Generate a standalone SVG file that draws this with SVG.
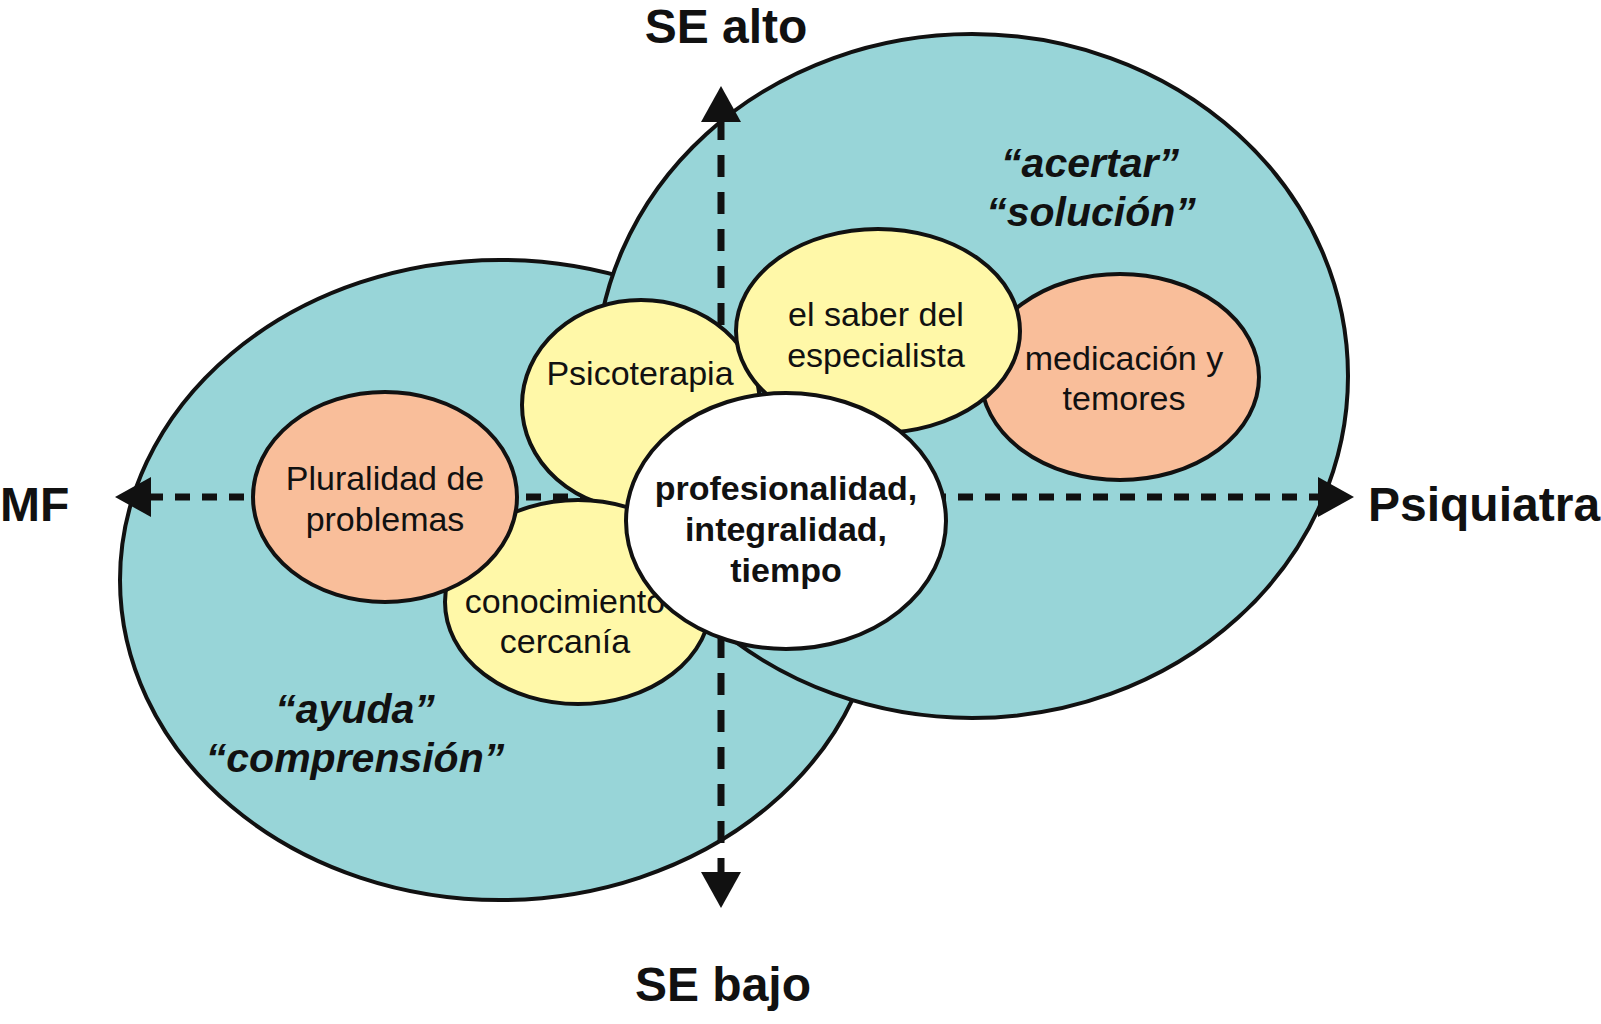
<svg xmlns="http://www.w3.org/2000/svg" width="1601" height="1024" viewBox="0 0 1601 1024">
<style>
.big{fill:#98D5D8;stroke:#111;stroke-width:4}
.yel{fill:#FFF8A8;stroke:#111;stroke-width:4}
.ora{fill:#F9BE9A;stroke:#111;stroke-width:4}
.wht{fill:#FFFFFF;stroke:#111;stroke-width:4}
.ax{stroke:#111;stroke-width:7;fill:none}
.t{font-family:"Liberation Sans",Arial,sans-serif;font-size:34px;fill:#111;text-anchor:middle}
.tb{font-family:"Liberation Sans",Arial,sans-serif;font-size:34px;font-weight:bold;fill:#111;text-anchor:middle}
.lab{font-family:"Liberation Sans",Arial,sans-serif;font-size:48px;font-weight:bold;fill:#111}
.q{font-family:"Liberation Sans",Arial,sans-serif;font-size:41px;font-weight:bold;font-style:italic;fill:#111;text-anchor:middle}
</style>
<rect width="1601" height="1024" fill="#fff"/>
<g id="mf-circle">
<ellipse class="big" cx="500" cy="580" rx="380" ry="320"/>
<text class="q" x="355" y="723">“ayuda”</text>
<text class="q" x="355" y="772">“comprensión”</text>
</g>
<g id="psiquiatra-circle">
<ellipse class="big" cx="972" cy="376" rx="376" ry="342"/>
<text class="q" x="1090" y="177">“acertar”</text>
<text class="q" x="1091" y="226">“solución”</text>
</g>
<g id="connectors">
<line class="ax" x1="721" y1="118" x2="721" y2="875" stroke-dasharray="22 15"/>
<line class="ax" x1="148" y1="497" x2="1320" y2="497" stroke-dasharray="15 12"/>
<polygon points="721,86 701,122 741,122" fill="#111"/>
<polygon points="721,908 701,872 741,872" fill="#111"/>
<polygon points="115,497 151,477 151,517" fill="#111"/>
<polygon points="1354,497 1318,477 1318,517" fill="#111"/>
</g>
<g id="medicacion">
<ellipse class="ora" cx="1120" cy="377" rx="139" ry="103"/>
<text class="t" x="1124" y="370">medicación y</text>
<text class="t" x="1124" y="410">temores</text>
</g>
<g id="psicoterapia">
<ellipse class="yel" cx="641" cy="405" rx="119" ry="105"/>
<text class="t" x="640" y="385">Psicoterapia</text>
</g>
<g id="saber">
<ellipse class="yel" cx="878" cy="331" rx="142" ry="102"/>
<text class="t" x="876" y="326">el saber del</text>
<text class="t" x="876" y="367">especialista</text>
</g>
<g id="conocimiento">
<ellipse class="yel" cx="578" cy="602" rx="133" ry="102"/>
<text class="t" x="565" y="613">conocimiento</text>
<text class="t" x="565" y="653">cercanía</text>
</g>
<g id="pluralidad">
<ellipse class="ora" cx="385" cy="497" rx="132" ry="105"/>
<text class="t" x="385" y="490">Pluralidad de</text>
<text class="t" x="385" y="531">problemas</text>
</g>
<g id="centro">
<ellipse class="wht" cx="786" cy="521" rx="160" ry="128"/>
<text class="tb" x="786" y="500">profesionalidad,</text>
<text class="tb" x="786" y="541">integralidad,</text>
<text class="tb" x="786" y="582">tiempo</text>
</g>
<g id="axis-labels">
<text class="lab" x="726" y="43" text-anchor="middle">SE alto</text>
<text class="lab" x="723" y="1001" text-anchor="middle">SE bajo</text>
<text class="lab" x="0" y="521">MF</text>
<text class="lab" x="1368" y="521">Psiquiatra</text>
</g>
</svg>
